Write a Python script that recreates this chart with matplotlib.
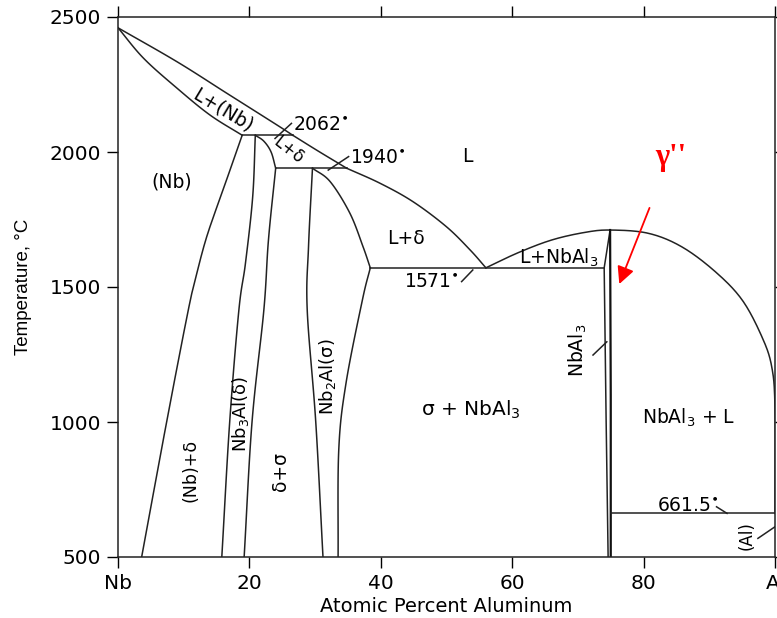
import matplotlib
matplotlib.use("Agg")
import numpy as np
import matplotlib.pyplot as plt

plt.rcParams['font.family'] = ['DejaVu Sans']

# ----- phase boundaries (at.% Al, deg C) -----
# liquidus, split at the invariant points
liq1_x = [0, 9.0, 16.6, 24.2, 26.6]
liq1_t = [2460, 2334, 2217, 2100, 2062]
liq2_x = [26.6, 30.5, 34.8]
liq2_t = [2062, 2003, 1940]
liq3_x = [34.8, 39.9, 44.9, 50.0, 53.6, 56.0]
liq3_t = [1940, 1884, 1816, 1723, 1637, 1571]

sol_nb_x = [0, 3.9, 9.0, 14.0, 18.9]
sol_nb_t = [2460, 2347, 2236, 2137, 2062]

solvus_nb_x = [18.9, 17.3, 15.6, 13.5, 12.0, 10.7, 7.4, 3.6]
solvus_nb_t = [2062, 1950, 1834, 1686, 1551, 1415, 1000, 500]

nb3al_left_x = [20.9, 20.5, 19.4, 18.4, 17.0, 15.8]
nb3al_left_t = [2062, 1834, 1588, 1415, 1000, 500]

nb3al_sol_x = [20.9, 22.2, 23.3, 24.0]
nb3al_sol_t = [2062, 2040, 2000, 1940]

nb3al_right_x = [24.0, 22.9, 22.2, 20.4, 19.2]
nb3al_right_t = [1940, 1674, 1415, 1000, 500]

sigma_left_x = [29.6, 29.0, 28.8, 30.1, 31.2]
sigma_left_t = [1940, 1650, 1415, 1000, 500]

sigma_top_x = [29.6, 32.3, 35.3, 37.3, 38.4]
sigma_top_t = [1940, 1890, 1773, 1649, 1571]
sigma_low_x = [38.4, 37.2, 34.7, 33.6, 33.5]
sigma_low_t = [1571, 1452, 1143, 896, 500]

dome_x = [56.0, 60.9, 66.0, 71.0, 74.9, 80.7, 85.8, 90.9, 95.0, 98.0, 99.5, 100.0, 100.0]
dome_t = [1571, 1627, 1674, 1702, 1711, 1699, 1649, 1557, 1452, 1316, 1205, 1050, 661.5]

nbal3_left_x = [74.9, 74.0, 74.3, 74.6]
nbal3_left_t = [1711, 1571, 1000, 500]
nbal3_right_x = [74.9, 75.0, 75.0]
nbal3_right_t = [1711, 1100, 500]

# invariant lines: (x from, x to, temperature)
invariants = [(18.9, 26.6, 2062), (24.0, 34.8, 1940), (38.4, 74.0, 1571), (75.0, 100.0, 661.5)]

xticks = [0, 20, 40, 60, 80, 100]
xticklabels = ['Nb', '20', '40', '60', '80', 'Al']
yticks = [500, 1000, 1500, 2000, 2500]


def smooth(xs, ts, n=20):
    # Catmull-Rom pass through the read points
    p = np.column_stack([xs, ts]).astype(float)
    p = np.vstack([2 * p[0] - p[1], p, 2 * p[-1] - p[-2]])
    out = []
    s = np.linspace(0, 1, n, endpoint=False)[:, None]
    for i in range(1, len(p) - 2):
        p0, p1, p2, p3 = p[i - 1], p[i], p[i + 1], p[i + 2]
        c = 0.5 * ((2 * p1) + (-p0 + p2) * s + (2 * p0 - 5 * p1 + 4 * p2 - p3) * s ** 2
                   + (-p0 + 3 * p1 - 3 * p2 + p3) * s ** 3)
        out.append(c)
    out.append(p[-2][None, :])
    out = np.vstack(out)
    return out[:, 0], out[:, 1]


fig = plt.figure(figsize=(7.77, 6.18), dpi=100)
ax = fig.add_axes([118 / 777, 61 / 618, 657 / 777, 540 / 618])

kw = dict(color='#222222', lw=1.1)
for xs, ts in [(liq1_x, liq1_t), (liq2_x, liq2_t), (liq3_x, liq3_t),
               (sol_nb_x, sol_nb_t), (solvus_nb_x, solvus_nb_t),
               (nb3al_left_x, nb3al_left_t), (nb3al_sol_x, nb3al_sol_t),
               (nb3al_right_x, nb3al_right_t), (sigma_left_x, sigma_left_t),
               (sigma_top_x, sigma_top_t), (sigma_low_x, sigma_low_t),
               (dome_x, dome_t)]:
    ax.plot(*smooth(xs, ts), **kw)
ax.plot(nbal3_left_x, nbal3_left_t, **kw)
ax.plot(nbal3_right_x, nbal3_right_t, color='#111111', lw=1.6)
for x0, x1, t in invariants:
    ax.plot([x0, x1], [t, t], **kw)

# leader lines for the invariant temperatures
leaders = [((23.9, 2050), (26.4, 2106)), ((32.0, 1933), (35.1, 1983)),
           ((52.3, 1520), (54.0, 1563)), ((91.1, 686), (92.7, 661.5)),
           ((72.3, 1248), (74.4, 1297)), ((97.4, 569), (100, 612))]
for (xa, ta), (xb, tb) in leaders:
    ax.plot([xa, xb], [ta, tb], **kw)

fs = 13.5
ax.text(26.6, 2100, '2062$^{\\bullet}$', fontsize=13.5, va='center', ha='left')
ax.text(35.3, 1981, '1940$^{\\bullet}$', fontsize=13.5, va='center', ha='left')
ax.text(51.9, 1520, '1571$^{\\bullet}$', fontsize=13.5, va='center', ha='right')
ax.text(91.5, 692, '661.5$^{\\bullet}$', fontsize=13.5, va='center', ha='right')

ax.text(15.9, 2156, 'L+(Nb)', fontsize=fs, rotation=-31, ha='center', va='center',
        rotation_mode='anchor')
ax.text(26.0, 2007, 'L+δ', fontsize=12, rotation=-38, ha='center', va='center',
        rotation_mode='anchor')
ax.text(53.2, 1983, 'L', fontsize=fs, ha='center', va='center')
ax.text(8.2, 1890, '(Nb)', fontsize=fs, ha='center', va='center')
ax.text(43.8, 1680, 'L+δ', fontsize=fs, ha='center', va='center')
ax.text(67.1, 1607, 'L+NbAl$_3$', fontsize=fs, ha='center', va='center')
ax.text(70.0, 1267, 'NbAl$_3$', fontsize=fs, rotation=90, ha='center', va='center')
ax.text(18.6, 1030, 'Nb$_3$Al(δ)', fontsize=13, rotation=90, ha='center', va='center')
ax.text(31.9, 1168, 'Nb$_2$Al(σ)', fontsize=13, rotation=90, ha='center', va='center')
ax.text(11.0, 822, '(Nb)+δ', fontsize=12.5, rotation=90, ha='center', va='center')
ax.text(24.7, 816, 'δ+σ', fontsize=fs, rotation=90, ha='center', va='center')
ax.text(53.7, 1044, 'σ + NbAl$_3$', fontsize=14.5, ha='center', va='center')
ax.text(86.8, 1014, 'NbAl$_3$ + L', fontsize=fs, ha='center', va='center')
ax.text(95.7, 578, '(Al)', fontsize=12, rotation=90, ha='center', va='center')

# red annotation
ax.annotate('', xy=(76.3, 1511), xytext=(80.9, 1793),
            arrowprops=dict(arrowstyle='-|>', color='red', lw=1.3,
                            mutation_scale=26, shrinkA=0, shrinkB=0))
ax.text(84.2, 1981, "γ''", color='red', fontsize=22, fontweight='bold',
        family='Liberation Serif', ha='center', va='center')

ax.set_xlim(0, 100)
ax.set_ylim(500, 2500)
ax.set_xticks(xticks)
ax.set_xticklabels(xticklabels)
ax.set_yticks(yticks)
ax.tick_params(direction='out', length=8, width=1.0, labelsize=14.5, pad=4,
               top=True, right=True)
for s in ax.spines.values():
    s.set_linewidth(1.1)
    s.set_color('#222222')

ax.set_xlabel('Atomic Percent Aluminum', fontsize=14)
ax.set_ylabel('Temperature, °C', fontsize=13.5, family='Liberation Sans')
ax.xaxis.set_label_coords(0.5, -0.075)
ax.yaxis.set_label_coords(-0.131, 0.5)

plt.savefig('out.png', dpi=100)
